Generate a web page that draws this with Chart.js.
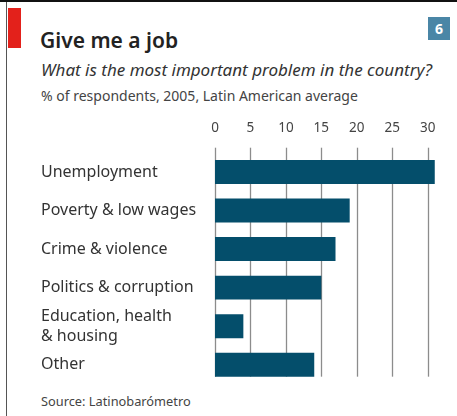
<!DOCTYPE html>
<html lang="en">
<head>
  <meta charset="UTF-8" />
  <title>Give me a job</title>
  <script src="https://cdn.jsdelivr.net/npm/chart.js"></script>
  <style>
    body {
      margin: 0;
      width: 457px;
      height: 416px;
      background: #fff;
      font-family: 'Noto Sans', sans-serif;
      position: relative;
      overflow: hidden;
    }
    .topline { position: absolute; left: 0; top: 0; width: 457px; height: 2px; background: #111; }
    .leftline { position: absolute; left: 6px; top: 2px; width: 1px; height: 414px; background: #555; }
    .redbar { position: absolute; left: 8px; top: 8px; width: 13px; height: 40px; background: #e3211b; }
    .badge {
      position: absolute; left: 428px; top: 17px; width: 22px; height: 23px;
      background: #4a86a6; color: #fff; font-weight: bold; font-size: 14px;
      text-align: center; line-height: 23px;
    }
    h1 {
      position: absolute; left: 40px; top: 25px; margin: 0;
      font-size: 21px; font-weight: 600; color: #222; line-height: 30px;
    }
    .sub {
      position: absolute; left: 41px; top: 59px; margin: 0;
      font-size: 17px; font-style: italic; color: #333; line-height: 22px;
    }
    .units {
      position: absolute; left: 41px; top: 87px; margin: 0;
      font-size: 14px; color: #444; line-height: 18px;
    }
    .source {
      position: absolute; left: 41px; top: 393px; margin: 0;
      font-size: 12.8px; color: #444; line-height: 16px;
    }
    #chart { position: absolute; left: 0; top: 110px; }
  </style>
</head>
<body>
  <div class="topline"></div>
  <div class="leftline"></div>
  <div class="redbar"></div>
  <div class="badge">6</div>
  <h1>Give me a job</h1>
  <p class="sub">What is the most important problem in the country?</p>
  <p class="units">% of respondents, 2005, Latin American average</p>
  <p class="source">Source: Latinobarómetro</p>
  <canvas id="chart" width="457" height="287"></canvas>

  <script>
    const categories = [
      'Unemployment',
      'Poverty & low wages',
      'Crime & violence',
      'Politics & corruption',
      ['Education, health', '& housing'],
      'Other'
    ];
    const shares = [31, 19, 17, 15, 4, 14];
    const xTicks = [0, 5, 10, 15, 20, 25, 30];

    // vertical gridlines run from just above the bars to the bottom of the last bar
    const gridPlugin = {
      id: 'gridLines',
      beforeDatasetsDraw(chart) {
        const ctx = chart.ctx;
        const x = chart.scales.x;
        const bars = chart.getDatasetMeta(0).data;
        const last = bars[bars.length - 1].getProps(['y', 'height'], true);
        const top = chart.chartArea.top - 5;
        const bottom = last.y + last.height / 2;
        ctx.save();
        ctx.strokeStyle = '#8c8c8c';
        ctx.lineWidth = 1.3;
        xTicks.forEach(v => {
          const px = Math.round(x.getPixelForValue(v)) + 0.5;
          ctx.beginPath();
          ctx.moveTo(px, top);
          ctx.lineTo(px, bottom);
          ctx.stroke();
        });
        ctx.restore();
      }
    };

    new Chart(document.getElementById('chart'), {
      type: 'bar',
      data: {
        labels: categories,
        datasets: [{
          data: shares,
          backgroundColor: '#044e6b',
          barPercentage: 0.62,
          categoryPercentage: 1
        }]
      },
      options: {
        indexAxis: 'y',
        responsive: false,
        animation: false,
        layout: { padding: { left: 41, right: 18.7, top: 0, bottom: 0 } },
        plugins: { legend: { display: false }, tooltip: { enabled: false } },
        scales: {
          x: {
            position: 'top',
            min: 0,
            max: 31.5,
            grid: { display: false },
            border: { display: false },
            afterFit(scale) { scale.height = 42.7; },
            ticks: {
              stepSize: 5,
              includeBounds: false,
              padding: 8,
              color: '#444',
              font: { family: 'Noto Sans', size: 13.5 }
            }
          },
          y: {
            grid: { display: false },
            border: { display: false },
            afterFit(scale) { scale.width = 174; },
            ticks: {
              autoSkip: false,
              crossAlign: 'far',
              color: '#333',
              font: { family: 'Noto Sans', size: 16, lineHeight: 1.25 }
            }
          }
        }
      },
      plugins: [gridPlugin]
    });
  </script>
</body>
</html>
